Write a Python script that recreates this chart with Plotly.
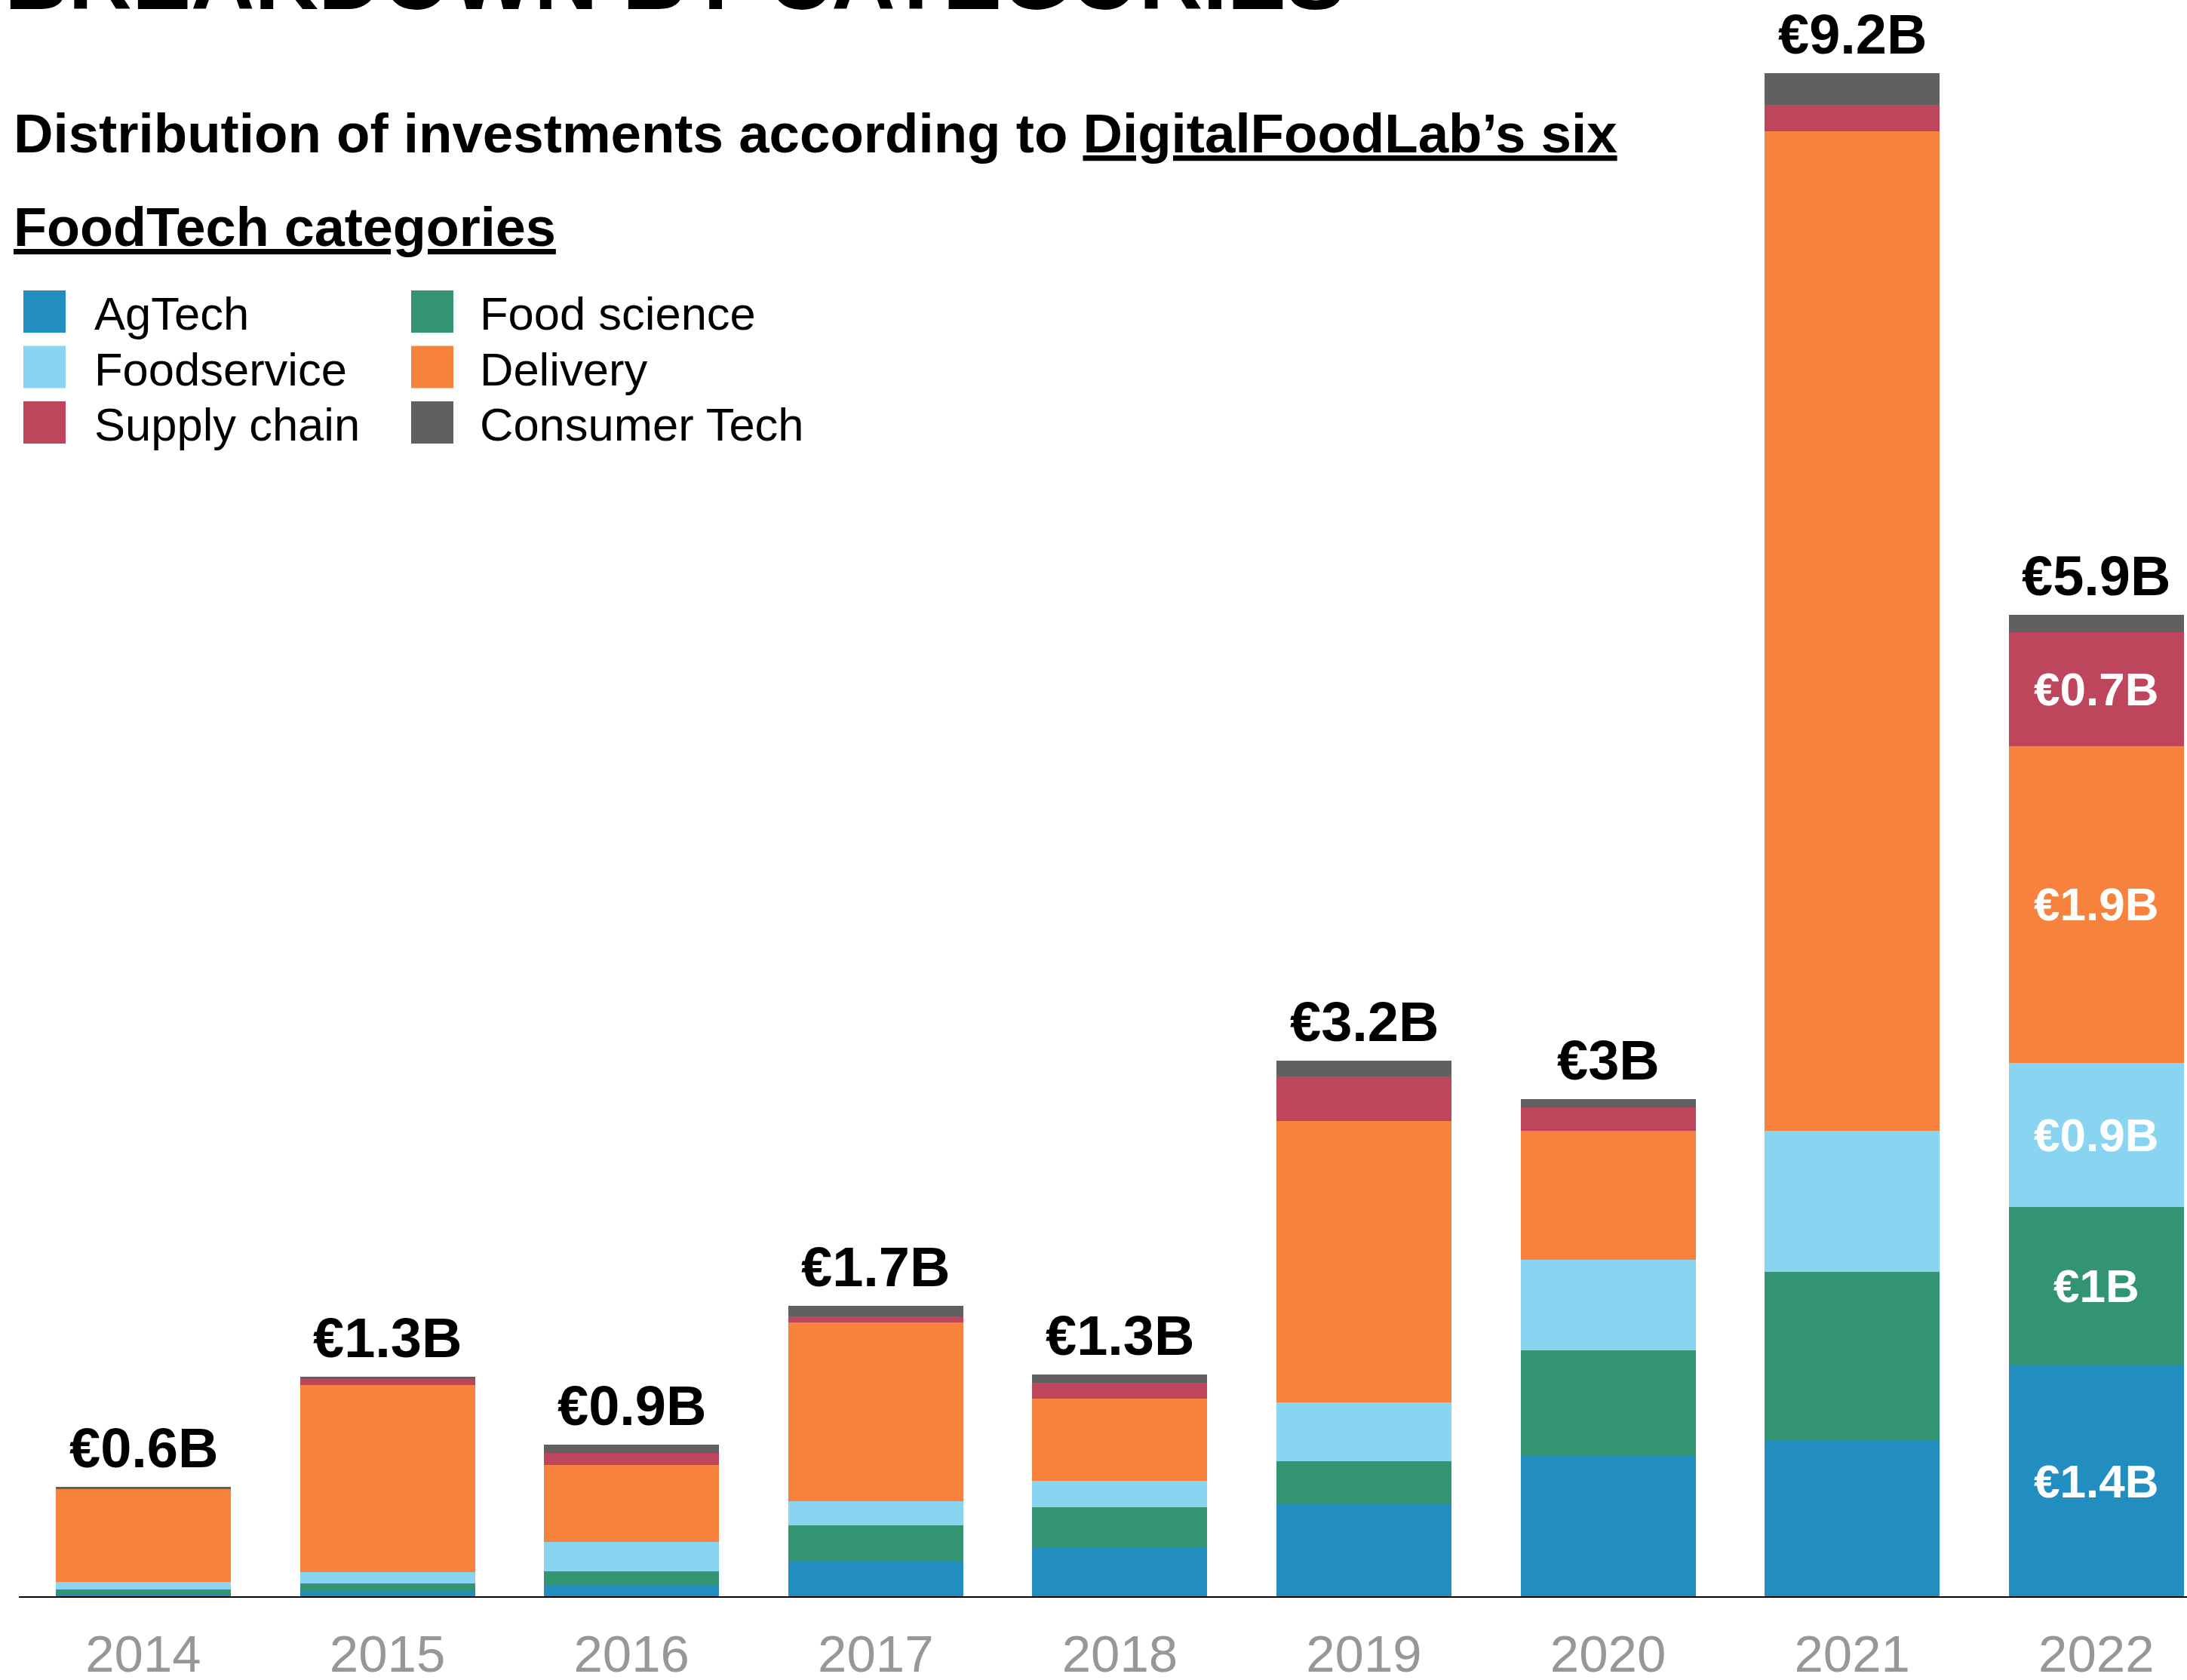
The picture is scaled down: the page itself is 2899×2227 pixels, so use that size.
import math
import plotly.graph_objects as go

# ---------------- data (EUR billions) ----------------
years = ["2014", "2015", "2016", "2017", "2018", "2019", "2020", "2021", "2022"]
categories = ["AgTech", "Food science", "Foodservice", "Delivery", "Supply chain", "Consumer Tech"]
agtech        = [0.012, 0.027, 0.065, 0.210, 0.292, 0.562, 0.854, 0.941, 1.397]
food_science  = [0.029, 0.050, 0.085, 0.219, 0.247, 0.256, 0.635, 1.023, 0.960]
foodservice   = [0.046, 0.068, 0.178, 0.146, 0.160, 0.356, 0.548, 0.854, 0.872]
delivery      = [0.562, 1.132, 0.466, 1.082, 0.498, 1.703, 0.781, 6.050, 1.918]
supply_chain  = [0.000, 0.037, 0.073, 0.037, 0.095, 0.268, 0.142, 0.160, 0.689]
consumer_tech = [0.014, 0.014, 0.050, 0.064, 0.052, 0.097, 0.050, 0.192, 0.105]
labelled_year = "2022"
labelled_categories = ["AgTech", "Food science", "Foodservice", "Delivery", "Supply chain"]

title_text = "BREAKDOWN BY CATEGORIES"
subtitle_1 = "Distribution of investments according to <u>DigitalFoodLab’s six</u>"
subtitle_2 = "<u>FoodTech categories</u>"

series = [agtech, food_science, foodservice, delivery, supply_chain, consumer_tech]
colors = ["#228EC0", "#339471", "#89D4F0", "#F6823E", "#BD455C", "#606060"]

# ---------------- layout helpers ----------------
W, H = 2899, 2227
FONT = "Liberation Sans, Arial, Helvetica, sans-serif"
PLOT_LEFT, PLOT_BOTTOM = 25, 2116
PX_PER_B = 219.0


def px_x(px):
    return px / W


def px_y(py):
    return 1 - py / H


def fmt(v):
    s = f"{v:.1f}"
    if s.endswith(".0"):
        s = s[:-2]
    return "€" + s + "B"


def fmt_trunc(v):
    t = math.floor(v * 10 + 1e-6) / 10
    return fmt(t)


fig = go.Figure()
for name, vals, col in zip(categories, series, colors):
    texts = [fmt(v) if (y == labelled_year and name in labelled_categories) else ""
             for y, v in zip(years, vals)]
    fig.add_trace(go.Bar(
        x=years, y=vals, name=name, marker=dict(color=col, line=dict(width=0)),
        text=texts, textposition="inside", insidetextanchor="middle", textangle=0,
        textfont=dict(family=FONT, size=62, color="white", weight=700),
        showlegend=False, hoverinfo="skip",
    ))

totals = [sum(v) for v in zip(*series)]
annotations = []
for i, t in enumerate(totals):
    annotations.append(dict(
        x=i, y=t, xref="x", yref="y", text=fmt_trunc(t), showarrow=False,
        yanchor="bottom", xanchor="center", yshift=8,
        font=dict(family=FONT, size=74, color="black", weight=700),
    ))

# title and subtitles
annotations.append(dict(x=px_x(4), y=px_y(12 - 0.3465 * 117), xref="paper", yref="paper",
                        text=title_text, showarrow=False, xanchor="left", yanchor="middle",
                        font=dict(family=FONT, size=117, color="black", weight=700)))
annotations.append(dict(x=px_x(16), y=px_y(202 - 0.3465 * 72.7), xref="paper", yref="paper",
                        text=subtitle_1, showarrow=False, xanchor="left", yanchor="middle",
                        font=dict(family=FONT, size=72.7, color="black", weight=700)))
annotations.append(dict(x=px_x(16), y=px_y(326 - 0.3465 * 72), xref="paper", yref="paper",
                        text=subtitle_2, showarrow=False, xanchor="left", yanchor="middle",
                        font=dict(family=FONT, size=72, color="black", weight=700)))

# manual legend (2 columns x 3 rows)
shapes = []
sw_left = [31, 545]
txt_left = [123, 634]
row_top = [385, 458.5, 532]
SW = 56
for i, (name, col) in enumerate(zip(categories, colors)):
    c, r = i % 2, i // 2
    x0, y0 = sw_left[c], row_top[r]
    shapes.append(dict(type="rect", xref="paper", yref="paper",
                       x0=px_x(x0), x1=px_x(x0 + SW), y0=px_y(y0), y1=px_y(y0 + SW),
                       fillcolor=col, line=dict(width=0), layer="above"))
    annotations.append(dict(x=px_x(txt_left[c]), y=px_y(y0 + SW / 2 + 3), xref="paper", yref="paper",
                            text=name, showarrow=False, xanchor="left", yanchor="middle",
                            font=dict(family=FONT, size=61.5, color="black")))

centre0, pitch = 190.0, 323.6
x_lo = (PLOT_LEFT - centre0) / pitch
x_hi = (W - centre0) / pitch

fig.update_layout(
    width=W, height=H, barmode="stack", bargap=0.283,
    margin=dict(l=0, r=0, t=0, b=0, autoexpand=False),
    paper_bgcolor="white", plot_bgcolor="white",
    font=dict(family=FONT),
    xaxis=dict(domain=[px_x(PLOT_LEFT), 1], range=[x_lo, x_hi], type="category",
               showline=True, linecolor="black", linewidth=2, ticks="",
               showgrid=False, zeroline=False, fixedrange=True, automargin=False,
               tickfont=dict(family=FONT, size=69, color="#979797"),
               ticklabelstandoff=15),
    yaxis=dict(domain=[px_y(PLOT_BOTTOM), 1], range=[0, PLOT_BOTTOM / PX_PER_B],
               visible=False, showgrid=False, zeroline=False, automargin=False,
               fixedrange=True),
    annotations=annotations, shapes=shapes,
)

fig.write_html(
    "out.html",
    config={"displayModeBar": False},
    post_script="document.body.style.margin='0';document.body.style.overflow='hidden';",
)
